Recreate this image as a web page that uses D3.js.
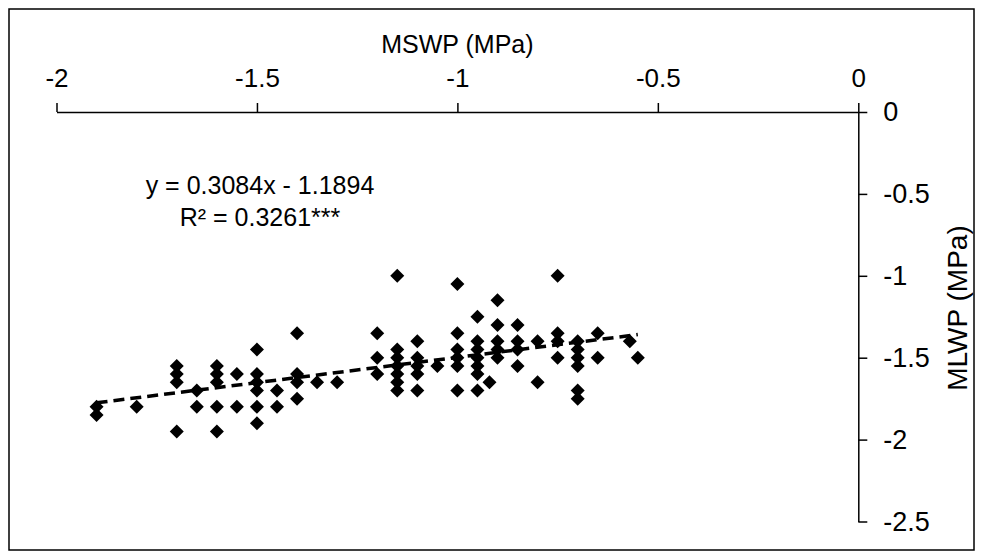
<!DOCTYPE html>
<html>
<head>
<meta charset="utf-8">
<script src="https://cdn.jsdelivr.net/npm/d3@7"></script>
<style>
  body { margin: 0; background: #fff; }
  text { font-family: "Liberation Sans", Arial, sans-serif; fill: #000; }
</style>
</head>
<body>
<div id="chart"></div>
<script>
// data (MSWP = x, MLWP = y)
var mswp = [
  -1.9, -1.9,
  -1.8,
  -1.7, -1.7, -1.7, -1.7,
  -1.65, -1.65,
  -1.6, -1.6, -1.6, -1.6, -1.6,
  -1.55, -1.55,
  -1.5, -1.5, -1.5, -1.5, -1.5, -1.5,
  -1.45, -1.45,
  -1.4, -1.4, -1.4, -1.4,
  -1.35,
  -1.3,
  -1.2, -1.2, -1.2,
  -1.15, -1.15, -1.15, -1.15, -1.15, -1.15, -1.15,
  -1.1, -1.1, -1.1, -1.1, -1.1,
  -1.05,
  -1.0, -1.0, -1.0, -1.0, -1.0, -1.0,
  -0.95, -0.95, -0.95, -0.95, -0.95, -0.95, -0.95,
  -0.92,
  -0.9, -0.9, -0.9, -0.9, -0.9,
  -0.85, -0.85, -0.85, -0.85,
  -0.8, -0.8,
  -0.75, -0.75, -0.75, -0.75,
  -0.7, -0.7, -0.7, -0.7, -0.7, -0.7,
  -0.65, -0.65,
  -0.57,
  -0.55
];
var mlwp = [
  -1.8, -1.85,
  -1.8,
  -1.55, -1.6, -1.65, -1.95,
  -1.7, -1.8,
  -1.55, -1.6, -1.65, -1.8, -1.95,
  -1.6, -1.8,
  -1.45, -1.6, -1.65, -1.7, -1.8, -1.9,
  -1.7, -1.8,
  -1.35, -1.6, -1.65, -1.75,
  -1.65,
  -1.65,
  -1.35, -1.5, -1.6,
  -1.0, -1.45, -1.5, -1.55, -1.6, -1.65, -1.7,
  -1.4, -1.5, -1.55, -1.6, -1.7,
  -1.55,
  -1.05, -1.35, -1.45, -1.5, -1.55, -1.7,
  -1.25, -1.4, -1.45, -1.5, -1.55, -1.6, -1.7,
  -1.65,
  -1.15, -1.3, -1.4, -1.45, -1.5,
  -1.3, -1.4, -1.45, -1.55,
  -1.4, -1.65,
  -1.0, -1.35, -1.4, -1.5,
  -1.4, -1.45, -1.5, -1.55, -1.7, -1.75,
  -1.35, -1.5,
  -1.4,
  -1.5
];

var xTicks = [-2, -1.5, -1, -0.5, 0];
var xTickLabels = ["-2", "-1.5", "-1", "-0.5", "0"];
var yTicks = [0, -0.5, -1, -1.5, -2, -2.5];
var yTickLabels = ["0", "-0.5", "-1", "-1.5", "-2", "-2.5"];

// linear trend shown on the chart
var slope = 0.3084;
var intercept = -1.1894;
var eqText = "y = 0.3084x - 1.1894";
var r2Text = "R\u00b2 = 0.3261***";

var svgWidth = 981;
var svgHeight = 557;

var svg = d3.select("#chart")
  .append("svg")
  .attr("width", svgWidth)
  .attr("height", svgHeight);

// outer chart border
svg.append("rect")
  .attr("x", 9)
  .attr("y", 9)
  .attr("width", 965)
  .attr("height", 541)
  .attr("fill", "none")
  .attr("stroke", "#000")
  .attr("stroke-width", 1.5);

var xScale = d3.scaleLinear()
  .domain([-2, 0])
  .range([56.5, 858.3]);

var yScale = d3.scaleLinear()
  .domain([-2.5, 0])
  .range([521.5, 112]);

// top x axis, crossing at y = 0
var topAxis = d3.axisTop(xScale)
  .tickValues(xTicks)
  .tickFormat((d, i) => xTickLabels[i])
  .tickSize(9)
  .tickSizeOuter(0)
  .tickPadding(16);

var xAxis = svg.append("g")
  .attr("transform", `translate(0, ${yScale(0)})`)
  .call(topAxis);

// right y axis, crossing at x = 0
var rightAxis = d3.axisRight(yScale)
  .tickValues(yTicks)
  .tickFormat((d, i) => yTickLabels[i])
  .tickSize(9)
  .tickSizeOuter(0)
  .tickPadding(16);

var yAxis = svg.append("g")
  .attr("transform", `translate(${xScale(0)}, 0)`)
  .call(rightAxis);

svg.selectAll(".domain, .tick line")
  .attr("stroke", "#000")
  .attr("stroke-width", 1.5);

xAxis.selectAll(".tick text")
  .attr("font-family", "Liberation Sans, Arial, sans-serif")
  .attr("font-size", 26)
  .attr("fill", "#000");

yAxis.selectAll(".tick text")
  .attr("font-family", "Liberation Sans, Arial, sans-serif")
  .attr("font-size", 27)
  .attr("fill", "#000");

// axis titles
svg.append("text")
  .attr("x", (xScale(-2) + xScale(0)) / 2)
  .attr("y", 53)
  .attr("text-anchor", "middle")
  .style("font-size", "25px")
  .text("MSWP (MPa)");

svg.append("text")
  .attr("transform", "rotate(-90)")
  .attr("x", -308)
  .attr("y", 967)
  .attr("text-anchor", "middle")
  .style("font-size", "28px")
  .text("MLWP (MPa)");

// points
var points = mswp.map((d, i) => ({x: d, y: mlwp[i]}));

svg.selectAll(".pt")
  .data(points)
  .enter()
  .append("path")
  .attr("class", "pt")
  .attr("d", "M0,-7L7,0L0,7L-7,0Z")
  .attr("transform", d => `translate(${xScale(d.x)}, ${yScale(d.y)})`)
  .attr("fill", "#000");

// dashed trendline over the data range
var xMin = d3.min(mswp);
var xMax = d3.max(mswp);
var trend = [xMin, xMax].map(x => ({x: x, y: slope * x + intercept}));

svg.append("path")
  .datum(trend)
  .attr("d", d3.line().x(d => xScale(d.x)).y(d => yScale(d.y)))
  .attr("fill", "none")
  .attr("stroke", "#000")
  .attr("stroke-width", 3.5)
  .attr("stroke-dasharray", "11,6");

// equation label
svg.append("text")
  .attr("x", 260)
  .attr("y", 194)
  .attr("text-anchor", "middle")
  .style("font-size", "25px")
  .text(eqText);

svg.append("text")
  .attr("x", 260)
  .attr("y", 226)
  .attr("text-anchor", "middle")
  .style("font-size", "25px")
  .text(r2Text);
</script>
</body>
</html>
